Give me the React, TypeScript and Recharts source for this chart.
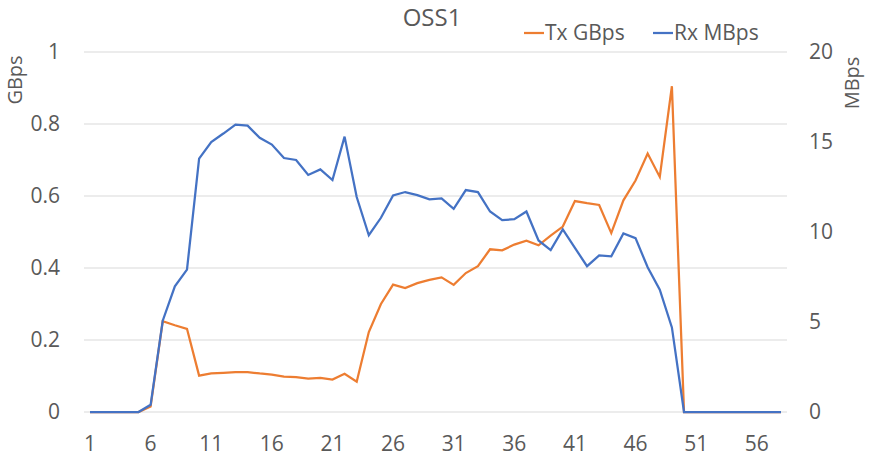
import { LineChart, Line, XAxis, YAxis, CartesianGrid } from 'recharts';

// sample index along the x axis
const samples = [
  1, 2, 3, 4, 5, 6, 7, 8, 9, 10, 11, 12, 13, 14, 15, 16, 17, 18, 19, 20,
  21, 22, 23, 24, 25, 26, 27, 28, 29, 30, 31, 32, 33, 34, 35, 36, 37, 38, 39, 40,
  41, 42, 43, 44, 45, 46, 47, 48, 49, 50, 51, 52, 53, 54, 55, 56, 57, 58,
];

// Tx in GBps (left axis)
const txGBps = [
  0, 0, 0, 0, 0, 0.015, 0.252, 0.241, 0.231, 0.101, 0.107, 0.109, 0.111, 0.111, 0.107, 0.104,
  0.098, 0.097, 0.093, 0.095, 0.09, 0.106, 0.084, 0.222, 0.3, 0.354, 0.344, 0.358, 0.367, 0.374,
  0.353, 0.386, 0.405, 0.452, 0.449, 0.465, 0.476, 0.463, 0.49, 0.515, 0.586, 0.58, 0.575, 0.497,
  0.588, 0.643, 0.718, 0.653, 0.905, 0, 0, 0, 0, 0, 0, 0, 0, 0,
];

// Rx in MBps (right axis)
const rxMBps = [
  0, 0, 0, 0, 0, 0.4, 5.07, 6.98, 7.91, 14.08, 15.0, 15.47, 15.97, 15.91, 15.23, 14.86,
  14.11, 14.0, 13.17, 13.48, 12.89, 15.3, 11.94, 9.82, 10.79, 12.03, 12.22, 12.05, 11.81, 11.87,
  11.29, 12.33, 12.22, 11.14, 10.66, 10.71, 11.14, 9.53, 8.99, 10.14, 9.12, 8.1, 8.7, 8.65,
  9.92, 9.66, 8.04, 6.8, 4.7, 0, 0, 0, 0, 0, 0, 0, 0, 0,
];

const leftTicks = [0, 0.2, 0.4, 0.6, 0.8, 1];
const rightTicks = [0, 5, 10, 15, 20];

const data = samples.map((x, i) => ({ x, tx: txGBps[i], rx: rxMBps[i] }));

const ORANGE = '#ED7D31';
const BLUE = '#4472C4';
const TEXT = '#595959';
const FONT = '"Open Sans", sans-serif';

const tickStyle = { fill: TEXT, fontSize: 21, fontFamily: FONT };

export default function App() {
  return (
    <div style={{ position: 'absolute', left: 0, top: 0, width: 874, height: 470, background: '#fff' }}>
      <LineChart width={874} height={470} data={data} margin={{ top: 52, right: 0, left: 0, bottom: 0 }}>
        <CartesianGrid vertical={false} stroke="#D9D9D9" strokeWidth={1} yAxisId="left" />
        <XAxis
          dataKey="x"
          height={58}
          interval={4}
          axisLine={false}
          tickLine={false}
          tickMargin={18}
          padding={{ left: 6, right: 6 }}
          tick={tickStyle}
        />
        <YAxis
          yAxisId="left"
          orientation="left"
          width={84}
          domain={[0, 1]}
          ticks={leftTicks}
          axisLine={false}
          tickLine={false}
          tickMargin={18}
          tick={tickStyle}
        />
        <YAxis
          yAxisId="right"
          orientation="right"
          width={87}
          domain={[0, 20]}
          ticks={rightTicks}
          axisLine={false}
          tickLine={false}
          tickMargin={16}
          tick={tickStyle}
        />
        <Line
          yAxisId="left"
          type="linear"
          dataKey="tx"
          name="Tx GBps"
          stroke={ORANGE}
          strokeWidth={2.25}
          dot={false}
          isAnimationActive={false}
        />
        <Line
          yAxisId="right"
          type="linear"
          dataKey="rx"
          name="Rx MBps"
          stroke={BLUE}
          strokeWidth={2.25}
          dot={false}
          isAnimationActive={false}
        />
      </LineChart>
      <svg
        width={874}
        height={470}
        style={{ position: 'absolute', left: 0, top: 0, pointerEvents: 'none' }}
      >
        <text x={432} y={26} textAnchor="middle" fontSize={24} fontFamily={FONT} fill={TEXT}>
          OSS1
        </text>
        <line x1={524} y1={33} x2={544} y2={33} stroke={ORANGE} strokeWidth={2.25} />
        <text x={545} y={40} fontSize={21} fontFamily={FONT} fill={TEXT}>
          Tx GBps
        </text>
        <line x1={653} y1={33} x2={673} y2={33} stroke={BLUE} strokeWidth={2.25} />
        <text x={674} y={40} fontSize={21} fontFamily={FONT} fill={TEXT}>
          Rx MBps
        </text>
        <text
          transform="translate(22,80) rotate(-90)"
          textAnchor="middle"
          fontSize={20}
          fontFamily={FONT}
          fill={TEXT}
        >
          GBps
        </text>
        <text
          transform="translate(859,83) rotate(-90)"
          textAnchor="middle"
          fontSize={20}
          fontFamily={FONT}
          fill={TEXT}
        >
          MBps
        </text>
      </svg>
    </div>
  );
}
